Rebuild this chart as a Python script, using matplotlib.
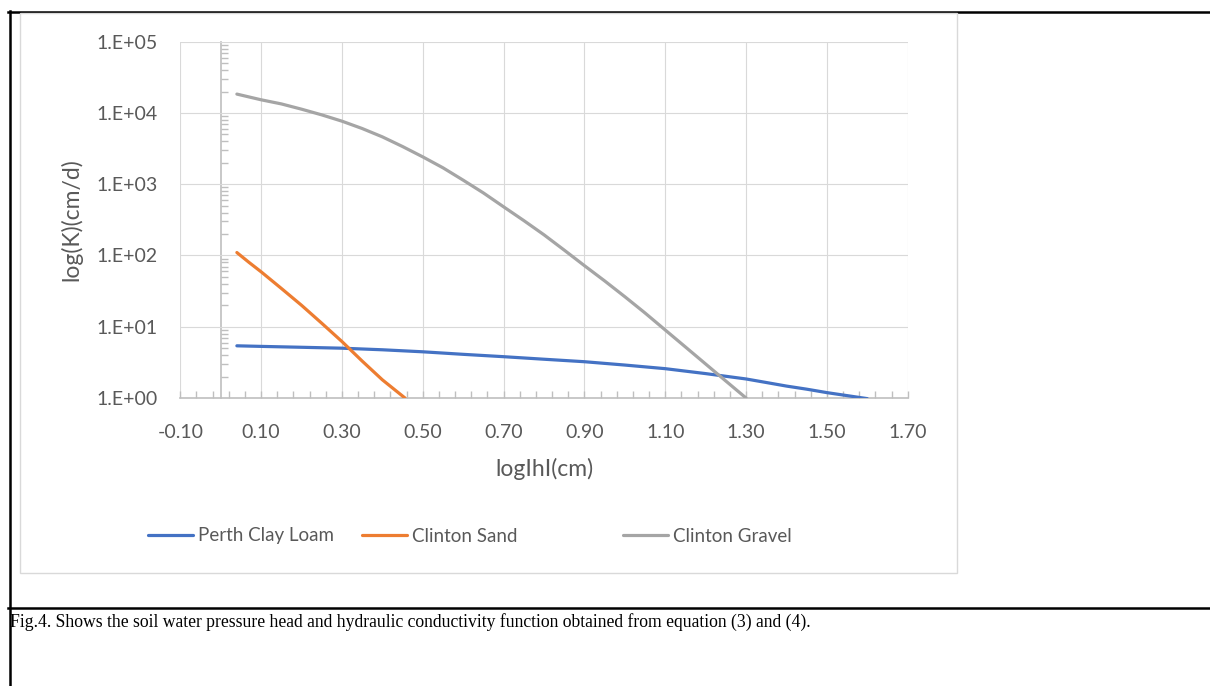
import matplotlib
matplotlib.use('Agg')
import matplotlib.pyplot as plt
from matplotlib.lines import Line2D
from matplotlib.patches import Rectangle
from matplotlib.ticker import MultipleLocator, FuncFormatter, NullFormatter

plt.rcParams['font.family'] = ['Lato', 'DejaVu Sans']

# values (x = log|h|, y = K in cm/d)
loam_h = [0.04, 0.10, 0.20, 0.30, 0.40, 0.50, 0.60, 0.70, 0.80, 0.90, 1.00, 1.10, 1.20,
          1.30, 1.35, 1.40, 1.45, 1.50, 1.55, 1.60]
loam_k = [5.4, 5.3, 5.15, 5.0, 4.75, 4.45, 4.1, 3.8, 3.5, 3.23, 2.9, 2.58, 2.2,
          1.85, 1.65, 1.47, 1.33, 1.19, 1.08, 0.98]

sand_h = [0.04, 0.07, 0.10, 0.15, 0.20, 0.25, 0.30, 0.35, 0.40, 0.456]
sand_k = [110, 80, 59, 34.5, 20, 11.2, 6.2, 3.3, 1.8, 1.0]

gravel_h = [0.04, 0.10, 0.15, 0.20, 0.25, 0.30, 0.35, 0.40, 0.45, 0.50, 0.55, 0.60, 0.65,
            0.70, 0.75, 0.80, 0.85, 0.90, 0.95, 1.00, 1.05, 1.10, 1.15, 1.20, 1.25, 1.30]
gravel_k = [18400, 15300, 13400, 11300, 9400, 7670, 6050, 4620, 3380, 2420, 1700, 1140, 755,
            482, 309, 195, 119, 72, 44, 26.4, 15.6, 9.0, 5.2, 3.0, 1.73, 1.0]

series_names = ['Perth Clay Loam', 'Clinton Sand', 'Clinton Gravel']
series_colors = ['#4472C4', '#ED7D31', '#A5A5A5']

caption = ('Fig.4. Shows the soil water pressure head and hydraulic conductivity '
           'function obtained from equation (3) and (4).')

W, H = 1210, 686
fig = plt.figure(figsize=(W / 100, H / 100), dpi=100)

def fx(px):
    return px / W

def fy(py):
    return 1 - py / H

# page frame lines (black) and the chart box
fig.add_artist(Line2D([fx(8), 1], [fy(12), fy(12)], color='black', lw=1.8, zorder=-3))
fig.add_artist(Line2D([fx(9.5), fx(9.5)], [0, fy(11)], color='black', lw=1.8, zorder=-3))
fig.add_artist(Line2D([fx(8), 1], [fy(608), fy(608)], color='black', lw=1.8, zorder=-3))
fig.add_artist(Rectangle((fx(20), fy(573)), fx(937), 560 / H, transform=fig.transFigure,
                         facecolor='white', edgecolor='#D9D9D9', lw=1.0, zorder=-1))

ax = fig.add_axes([fx(180.3), fy(398), fx(727.4), 356.3 / H])
ax.set_yscale('log')

lines = []
for xs, ys, name, col in zip([loam_h, sand_h, gravel_h], [loam_k, sand_k, gravel_k],
                             series_names, series_colors):
    ln, = ax.plot(xs, ys, color=col, lw=2.3, label=name, solid_capstyle='round',
                  solid_joinstyle='round', zorder=3)
    lines.append(ln)

ax.set_xlim(-0.1, 1.7)
ax.set_ylim(1, 1e5)

ax.xaxis.set_major_locator(MultipleLocator(0.2, offset=0.1))
ax.xaxis.set_minor_locator(MultipleLocator(0.04, offset=0.02))
ax.xaxis.set_major_formatter(FuncFormatter(lambda v, p: '%.2f' % v))
ax.yaxis.set_major_formatter(FuncFormatter(lambda v, p: '%#.0E' % v))
ax.yaxis.set_minor_formatter(NullFormatter())

ax.grid(True, which='major', color='#D9D9D9', lw=0.8)
ax.set_axisbelow(True)
for s in ['top', 'right', 'left']:
    ax.spines[s].set_visible(False)
ax.spines['bottom'].set_color('#BFBFBF')
ax.spines['bottom'].set_linewidth(1.2)

ax.tick_params(axis='x', which='both', direction='in', length=5, width=1, color='#BFBFBF',
               pad=19, labelsize=14, labelcolor='#595959')
ax.tick_params(axis='y', which='both', length=0, pad=16, labelsize=14, labelcolor='#595959')

# vertical axis line drawn at x = 0 with log minor ticks
sec = ax.secondary_yaxis(0.1 / 1.8)
sec.spines['right'].set_visible(False)
sec.spines['left'].set_color('#BFBFBF')
sec.spines['left'].set_linewidth(1.2)
sec.tick_params(which='major', length=0, labelleft=False)
sec.tick_params(which='minor', direction='in', length=5, width=1, color='#BFBFBF', labelleft=False)
sec.yaxis.set_minor_formatter(NullFormatter())

ax.set_xlabel('logIhI(cm)', fontsize=16.5, color='#595959')
ax.xaxis.set_label_coords(0.5, -0.168)
ax.set_ylabel('log(K)(cm/d)', fontsize=16.5, color='#595959')
ax.yaxis.set_label_coords(-0.134, 0.5)

# legend entries placed one by one like the original
leg_x = [148, 362, 623]
for ln, x0 in zip(lines, leg_x):
    leg = fig.legend(handles=[ln], loc='center left', bbox_to_anchor=(fx(x0), fy(536)),
                     frameon=False, borderpad=0, borderaxespad=0, handlelength=2.4,
                     handletextpad=0.25, fontsize=13.5, labelcolor='#595959')

fig.text(fx(10), fy(627), caption, family=['Liberation Serif'], fontsize=12.7,
         color='black', va='baseline', ha='left')

fig.savefig('out.png', dpi=100)
